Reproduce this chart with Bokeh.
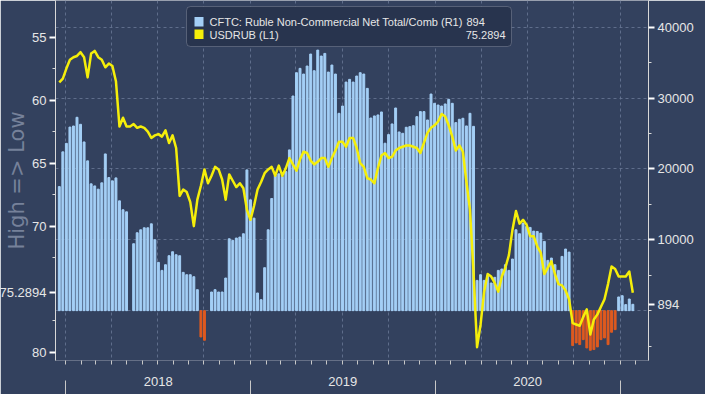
import numpy as np
import pandas as pd
from bokeh.plotting import figure
from bokeh.models import (Range1d, LinearAxis, DatetimeAxis, FixedTicker, Label,
                          BoxAnnotation, ColumnDataSource, DatetimeTickFormatter)
from bokeh.embed import file_html
from bokeh.resources import INLINE

# ---------------- data ----------------
start_date = "2017-12-19"   # weekly observations
series_names = ["CFTC: Ruble Non-Commercial Net Total/Comb (R1)", "USDRUB (L1)"]

cftc_net = [
    17500, 22400, 23600, 25900, 26050, 27280, 26290, 23800, 21130, 17890,
    17600, 17140, 18030, 22110, 18780, 18310, 18730, 15490, 14230, 13940,
    float("nan"), 9440, 10990, 11410, 11690, 11690, 12250, 10000, 6810, 5680,
    6480, 7750, 8310, 7890, 7750, 5400, 5070, 5070, 4790, 2960,
    -3710, -4180, float("nan"), 2630, 2960, 2630, 2630, 4600, 10140, 9910,
    10240, 10380, 10850, 19860, 15630, 13050, 2490, 1550, 6060, 11410,
    15820, 19060, 19300, 18920, 19620, 22680, 30280, 33570, 34180, 33380,
    34510, 36200, 33850, 36760, 35920, 36290, 33660, 34650, 33380, 27840,
    28870, 32250, 32630, 32250, 33100, 33570, 33380, 31360, 27180, 27470,
    27610, 28030, 23620, 24840, 26340, 28590, 25210, 25020, 25870, 25960,
    26100, 27370, 28080, 28080, 26900, 30560, 29250, 29010, 28870, 29160,
    29810, 29250, 26530, 27000, 27140, 26060, 27840, 26000, 4270, 5070,
    4270, 4930, 3900, 4700, 5680, 5870, 6480, 5680, 7280, 11410,
    10850, 12350, 11880, 11740, 11220, 11170, 10940, 9770, 7090, 7420,
    6480, 5680, 7650, 8690, 8260, -4930, -4550, -4790, -4090, -5260,
    -5590, -5490, -5120, -4090, -3850, -4790, -3050, -2680, 1930, 2110,
    850, 1640, 894,
]

usdrub = [
    58.6, 58.3, 57.5, 56.8, 56.6, 56.5, 56.2, 56.6, 58.2, 56.3,
    56.1, 56.6, 56.8, 57.4, 57.1, 57.3, 58.5, 62.1, 61.4, 62.1,
    62.1, 61.9, 62.2, 62.1, 62.2, 62.5, 63.0, 62.8, 62.7, 62.9,
    62.4, 63.4, 62.8, 63.8, 67.6, 67.1, 67.3, 68.1, 70.0, 67.9,
    66.8, 65.5, 66.6, 66.0, 65.3, 65.5, 66.3, 67.9, 65.9, 66.4,
    66.9, 66.6, 67.0, 68.7, 69.5, 68.4, 67.1, 66.5, 65.8, 65.5,
    65.3, 66.0, 65.2, 66.0, 65.4, 64.6, 65.1, 65.6, 64.7, 64.1,
    64.2, 64.8, 65.1, 64.9, 64.6, 64.6, 65.3, 64.6, 64.0, 63.3,
    63.3, 63.7, 63.0, 63.0, 63.8, 65.0, 65.3, 66.2, 66.3, 66.6,
    65.4, 64.4, 64.2, 64.6, 64.5, 64.0, 63.8, 63.7, 63.6, 63.6,
    63.7, 63.8, 64.2, 63.4, 62.6, 62.2, 62.0, 61.7, 61.1, 61.3,
    62.0, 62.9, 64.0, 63.6, 64.1, 66.5, 68.7, 73.6, 79.6, 77.8,
    75.2, 73.8, 74.0, 74.5, 75.2, 74.0, 73.3, 72.3, 70.3, 68.8,
    69.8, 69.5, 69.9, 70.8, 70.8, 71.6, 72.1, 73.8, 73.3, 72.8,
    73.8, 74.6, 74.7, 75.1, 75.8, 77.7, 77.8, 77.9, 77.2, 76.6,
    78.6, 77.4, 77.0, 76.4, 75.8, 74.6, 73.2, 73.4, 74.0, 74.0,
    74.0, 73.6, 75.2894,
]

left_ticks = [55, 60, 65, 70, 80]
left_minor = [57.5, 62.5, 67.5, 72.5, 77.5]
right_ticks = [10000, 20000, 30000, 40000]
right_minor = [-5000, 0, 5000, 15000, 25000, 35000]
grid_ticks = [0, 10000, 20000, 30000, 40000]
years = [2018, 2019, 2020, 2021]

# ---------------- helpers ----------------
def ms(d):
    return pd.Timestamp(d).value // 10**6

dates = pd.date_range(start_date, periods=len(cftc_net), freq="7D")
POS, NEG = "#a4cff6", "#df5a1f"
YEL = "#f5ee0a"
colors = [NEG if (v == v and v < 0) else POS for v in cftc_net]
src = ColumnDataSource(dict(date=dates, cftc=cftc_net, rub=usdrub, color=colors))

BG = "#33415e"
TXT = "#e6e6e6"
FONT = "Liberation Sans"

p = figure(width=705, height=394, x_axis_type="datetime",
           x_range=Range1d(ms("2017-12-11 12:00"), ms("2021-02-26")),
           y_range=Range1d(80.66, 52.1),
           output_backend="svg", toolbar_location=None,
           min_border_left=55, min_border_right=57, min_border_top=0,
           min_border_bottom=33,
           background_fill_color=BG, border_fill_color=BG,
           outline_line_color=None)
p.extra_y_ranges = {"r1": Range1d(-7034, 43756)}

# grids
quarters = [ms(d) for d in pd.date_range("2018-01-01", "2021-01-01", freq="QS")]
p.xgrid.ticker = FixedTicker(ticks=quarters)
p.xgrid.grid_line_color = "#6a7896"
p.xgrid.grid_line_dash = "3 3"
p.xgrid.grid_line_alpha = 0.8
p.ygrid.y_range_name = "r1"
p.ygrid.ticker = FixedTicker(ticks=grid_ticks)
p.ygrid.grid_line_color = "#6a7896"
p.ygrid.grid_line_dash = "3 3"
p.ygrid.grid_line_alpha = 0.8

# glyphs
p.vbar(x="date", top="cftc", bottom=0, width=3.8 * 86400000, color="color",
       source=src, y_range_name="r1")
p.line(x="date", y="rub", source=src, line_color=YEL, line_width=2.5,
       line_join="round")

# left axis (last USDRUB value shown at its level)
last_rub = usdrub[-1]
ly = p.yaxis[0]
ly.ticker = FixedTicker(ticks=left_ticks + [last_rub], minor_ticks=left_minor)
ly.major_label_overrides = {last_rub: f"{last_rub:.4f}"}
ly.axis_line_color = "#d8d8d8"
ly.major_tick_line_color = "#ffffff"
ly.minor_tick_line_color = "#d8d8d8"
ly.major_tick_out = 6
ly.major_tick_in = 0
ly.minor_tick_out = 3
ly.minor_tick_in = 0
ly.major_tick_line_width = 2
ly.major_label_standoff = 3
ly.major_label_text_color = TXT
ly.major_label_text_font = FONT
ly.major_label_text_font_size = "13px"
ly.axis_label = "High => Low"
ly.axis_label_text_color = "#76819a"
ly.axis_label_text_font = "DejaVu Sans"
ly.axis_label_text_font_size = "21px"
ly.axis_label_text_font_style = "normal"
ly.axis_label_standoff = -32

# right axis (last value 894 shown at its level)
ry = LinearAxis(y_range_name="r1",
                ticker=FixedTicker(ticks=[cftc_net[-1]] + right_ticks,
                                   minor_ticks=right_minor))
ry.axis_line_color = "#d8d8d8"
ry.major_tick_line_color = "#ffffff"
ry.minor_tick_line_color = "#d8d8d8"
ry.major_tick_out = 6
ry.major_tick_in = 0
ry.minor_tick_out = 3
ry.minor_tick_in = 0
ry.major_tick_line_width = 2
ry.major_label_standoff = 3
ry.major_label_text_color = TXT
ry.major_label_text_font = FONT
ry.major_label_text_font_size = "13px"
ry.axis_label_standoff = 0
p.add_layout(ry, "right")

# bottom axis: month ticks + year labels centred in each year
year_starts = [ms(f"{y}-01-01") for y in years]
mid_years = [(a + b) / 2 for a, b in zip(year_starts[:-1], year_starts[1:])]
months = [ms(d) for d in pd.date_range("2018-01-01", "2021-02-01", freq="MS")]
bx = p.xaxis[0]
bx.ticker = FixedTicker(ticks=mid_years, minor_ticks=months)
bx.formatter = DatetimeTickFormatter(years="%Y", months="%Y", days="%Y")
bx.axis_line_color = None
bx.major_tick_line_color = None
bx.minor_tick_line_color = "#c8c8c8"
bx.major_tick_in = 0
bx.major_tick_out = 0
bx.minor_tick_in = 0
bx.minor_tick_out = 4
bx.major_label_standoff = 12
bx.major_label_text_color = TXT
bx.major_label_text_font = FONT
bx.major_label_text_font_size = "13px"
bx.axis_label_standoff = 0

# year separators (second, label-free axis below the year labels)
sep = DatetimeAxis(ticker=FixedTicker(ticks=[], minor_ticks=year_starts))
sep.axis_line_color = None
sep.minor_tick_line_color = "#c8c8c8"
sep.minor_tick_in = 8
sep.minor_tick_out = 6
sep.major_tick_in = 0
sep.major_tick_out = 0
sep.major_label_standoff = 0
sep.axis_label_standoff = 0
p.add_layout(sep, "below")

# legend box
p.add_layout(BoxAnnotation(left=131, right=456, bottom=314, top=354,
                           left_units="screen", right_units="screen",
                           bottom_units="screen", top_units="screen",
                           fill_color="#28344e", fill_alpha=1.0,
                           line_color="#b8bcc6", line_width=1, border_radius=4))
p.add_layout(BoxAnnotation(left=139, right=148, bottom=334, top=343.5,
                           left_units="screen", right_units="screen",
                           bottom_units="screen", top_units="screen",
                           fill_color=POS, fill_alpha=1.0, line_color=None))
p.add_layout(BoxAnnotation(left=139, right=148, bottom=321.5, top=331,
                           left_units="screen", right_units="screen",
                           bottom_units="screen", top_units="screen",
                           fill_color=YEL, fill_alpha=1.0, line_color=None))
for yy, name in zip((338.5, 326), series_names):
    p.add_layout(Label(x=154, y=yy, x_units="screen", y_units="screen", text=name,
                       text_baseline="middle", text_color=TXT, text_font=FONT,
                       text_font_size="11px"))
p.add_layout(Label(x=411, y=338.5, x_units="screen", y_units="screen",
                   text=f"{cftc_net[-1]:.0f}", text_baseline="middle",
                   text_color=TXT, text_font=FONT, text_font_size="11px"))
p.add_layout(Label(x=450, y=326, x_units="screen", y_units="screen",
                   text=f"{last_rub:.4f}", text_align="right",
                   text_baseline="middle", text_color=TXT, text_font=FONT,
                   text_font_size="11px"))

open("out.html", "w").write(file_html(p, INLINE))
